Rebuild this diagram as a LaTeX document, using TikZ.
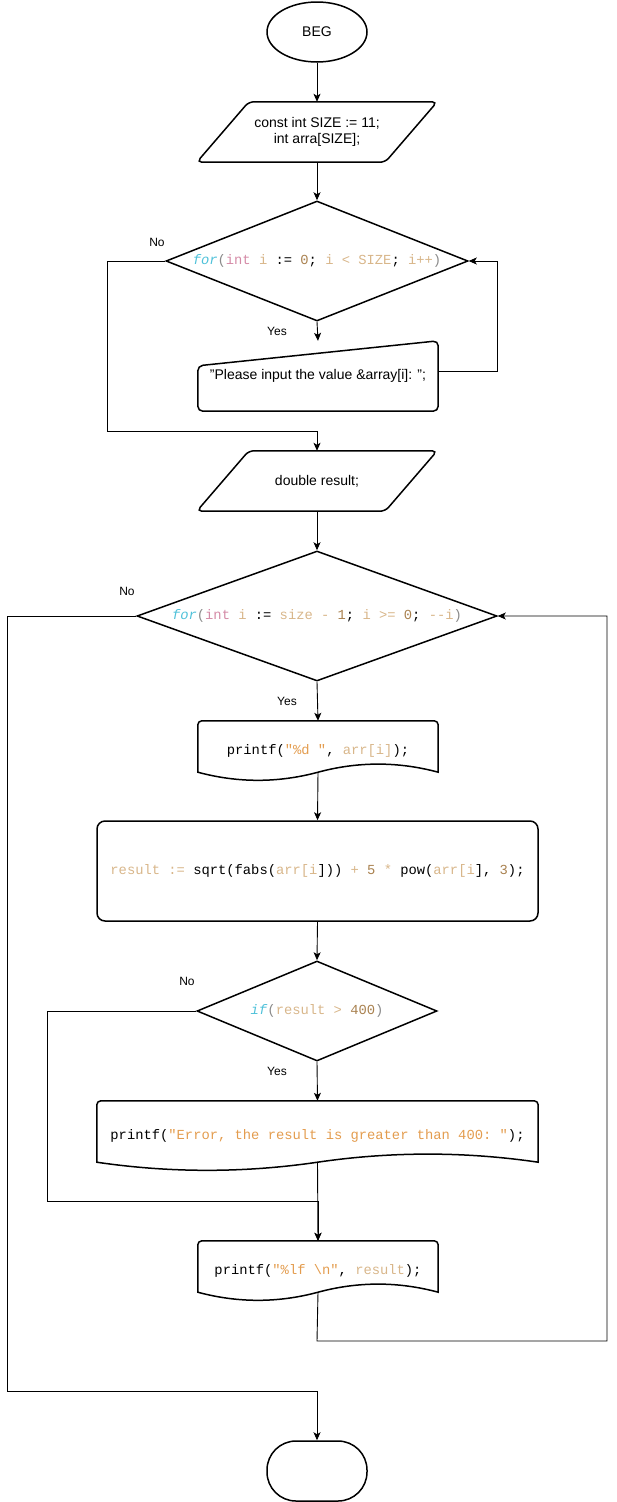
\documentclass[tikz,border=0pt]{standalone}
\usepackage{fontspec}
\setmainfont{Liberation Sans}
\setmonofont{Liberation Mono}
\usetikzlibrary{shapes.geometric,arrows.meta,calc}
\definecolor{kwcol}{HTML}{4FC1D9}
\definecolor{tycol}{HTML}{D48AA6}
\definecolor{varcol}{HTML}{D8B68A}
\definecolor{numcol}{HTML}{A9814F}
\definecolor{strcol}{HTML}{E39C4E}
\definecolor{pncol}{HTML}{8A8A8A}
\newcommand{\ckw}[1]{\textcolor{kwcol}{\textit{#1}}}
\newcommand{\cty}[1]{\textcolor{tycol}{#1}}
\newcommand{\cvar}[1]{\textcolor{varcol}{#1}}
\newcommand{\cnum}[1]{\textcolor{numcol}{#1}}
\newcommand{\cstr}[1]{\textcolor{strcol}{#1}}
\newcommand{\cpn}[1]{\textcolor{pncol}{#1}}
% outline of an input/output block
\newcommand{\iodraw}[1]{\draw[shapeline, rounded corners=5] (#1.south west) -- ([shift={(52,0)}]#1.north west) -- (#1.north east) -- ([shift={(-52,0)}]#1.south east) -- cycle;}
% outline of a document block (wavy bottom)
\newcommand{\docdraw}[1]{\draw[shapeline] ([shift={(0,-9)}]#1.south west) [rounded corners=4] -- (#1.north west) -- (#1.north east) [sharp corners] -- ([shift={(0,-9)}]#1.south east)
  .. controls ($(#1.south west)!5/6!(#1.south east)+(0,-19.8)$) and ($(#1.south west)!2/3!(#1.south east)+(0,-19.8)$) .. ([shift={(0,-9)}]#1.south)
  .. controls ($(#1.south west)!1/3!(#1.south east)+(0,1.8)$) and ($(#1.south west)!1/6!(#1.south east)+(0,1.8)$) .. cycle;}

\begin{document}
\begin{tikzpicture}[x=1pt, y=-1pt,
	every node/.style={font=\fontsize{14}{16}\selectfont, inner sep=0pt},
	shapeline/.style={draw, line width=1.5pt},
	code/.style={font=\fontsize{13.8}{16}\ttfamily},
	block/.style={minimum width=240, minimum height=60, align=center},
	decision/.style={diamond, shapeline, code},
	flow/.style={line width=0.9pt, -{Stealth[length=8pt, width=7pt, inset=2pt]}},
	lbl/.style={font=\fontsize{12}{14}\selectfont}]
	\useasboundingbox (0,0) rectangle (616,1502);
	\node[ellipse, shapeline, minimum width=100, minimum height=60] (beg) at (317,32) {BEG};
	\node[block] (decl) at (317,132) {const int SIZE := 11;\\int arra[SIZE];};
	\node[decision, minimum width=302, minimum height=120, aspect=2.5] (loop1) at (317,261) {\ckw{for}\cpn{(}\cty{int} \cvar{i} := \cnum{0}; \cvar{i} \cvar{<} \cvar{SIZE}; \cvar{i++}\cpn{)}};
	\node[block, minimum height=70] (ask) at (318,376) {"Please input the value \&array[i]: ";};
	\node[block] (res) at (317,481) {double result;};
	\node[decision, minimum width=360, minimum height=130, aspect=2.8] (loop2) at (317,616) {\ckw{for}\cpn{(}\cty{int} \cvar{i} := \cvar{size} \cvar{-} \cnum{1}; \cvar{i} \cvar{>=} \cnum{0}; \cvar{-{}-i}\cpn{)}};
	\node[block, code] (pr1) at (318,751) {printf(\cstr{"\%d "}, \cvar{arr[i]});};
	\node[shapeline, rounded corners=8, code, minimum width=441, minimum height=100] (calc) at (317.5,871) {\cvar{result :=} sqrt(fabs(\cvar{arr[i}])) \cvar{+} \cnum{5} \cvar{*} pow(\cvar{arr[i}], \cnum{3});};
	\node[decision, minimum width=240, minimum height=100, aspect=2.4] (chk) at (317,1011) {\ckw{if}\cpn{(}\cvar{result >} \cnum{400}\cpn{)}};
	\node[block, code, minimum width=441, minimum height=70] (pr2) at (317.5,1136) {printf(\cstr{"Error, the result is greater than 400: "});};
	\node[block, code] (pr3) at (318,1271) {printf(\cstr{"\%lf \textbackslash n"}, \cvar{result});};
	\node[shapeline, rounded corners=29, minimum width=100, minimum height=60] (fin) at (317,1471) {};
	% outlines
	\iodraw{decl}
	\iodraw{res}
	\draw[shapeline, rounded corners=5] (ask.south west) -- ([shift={(0,25)}]ask.north west) -- (ask.north east) -- (ask.south east) -- cycle;
	\docdraw{pr1}
	\docdraw{pr2}
	\docdraw{pr3}
	% labels
	\node[lbl] (no1) at (157,242) {No};
	\node[lbl] (yes1) at (277,331) {Yes};
	\node[lbl] (no2) at (127,591) {No};
	\node[lbl] (yes2) at (287,701) {Yes};
	\node[lbl] (no3) at (187,981) {No};
	\node[lbl] (yes3) at (277,1071) {Yes};
	% corners
	\coordinate (l1) at (107,431);
	\coordinate (r1) at (497,261);
	\coordinate (l2) at (7,1391);
	\coordinate (r2a) at (317,1341);
	\coordinate (r2) at (607,616);
	\coordinate (l3) at (47,1201);
	% connectors
	\draw[flow] (beg.south) -- (decl.north);
	\draw[flow] (decl.south) -- (loop1.north);
	\draw[flow] (loop1.south) -- (ask.north);
	\draw[flow] ([yshift=5pt]ask.east) -| (r1) -- (loop1.east);
	\draw[flow] (loop1.west) -| (l1) -| (res.north);
	\draw[flow] (res.south) -- (loop2.north);
	\draw[flow] (loop2.south) -- (pr1.north);
	\draw[flow] ([shift={(0,-9)}]pr1.south) -- (calc.north);
	\draw[flow] (calc.south) -- (chk.north);
	\draw[flow] (chk.south) -- (pr2.north);
	\draw[flow] (chk.west) -| (l3) -| (pr3.north);
	\draw[flow] ([shift={(0,-9)}]pr2.south) -- (pr3.north);
	\draw[flow] ([shift={(0,-9)}]pr3.south) -- (r2a) -| (r2) -- (loop2.east);
	\draw[flow] (loop2.west) -| (l2) -| (fin.north);
\end{tikzpicture}
\end{document}
